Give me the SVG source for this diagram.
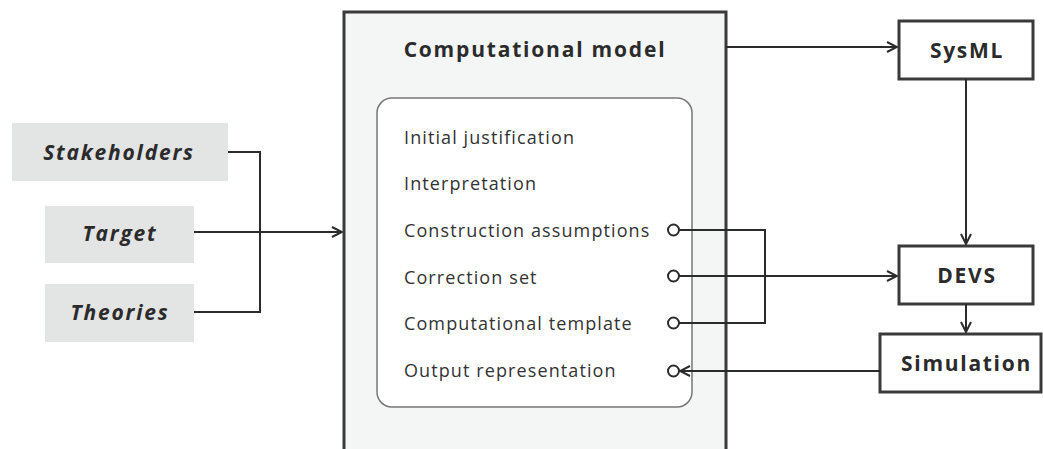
<svg xmlns="http://www.w3.org/2000/svg" width="1043" height="449" viewBox="0 0 1043 449">
<defs>
<style>
.lbl{font-family:"Open Sans","Noto Sans",sans-serif;fill:#2b2b2b}
.src rect{fill:#e3e4e4}
.src text{font-size:21px;font-weight:bold;font-style:italic;text-anchor:middle;letter-spacing:1.8px}
.box rect{fill:#ffffff;stroke:#3a3a3a;stroke-width:3}
.box text{font-size:21px;font-weight:bold;text-anchor:middle;letter-spacing:1.7px}
.item{font-size:18px;fill:#333;letter-spacing:1.1px}
.port{fill:#ffffff;stroke:#2b2b2b;stroke-width:2}
.conn{fill:none;stroke:#2b2b2b;stroke-width:2}
</style>
<marker id="arr" viewBox="0 0 12 12" refX="11" refY="6" markerWidth="12" markerHeight="12" markerUnits="userSpaceOnUse" orient="auto">
<path d="M1,1 L11,6 L1,11" fill="none" stroke="#2b2b2b" stroke-width="2"/>
</marker>
</defs>
<rect width="1043" height="449" fill="#ffffff"/>

<g id="computational-model">
<rect x="344" y="12" width="382" height="460" fill="#f4f5f5" stroke="#3a3a3a" stroke-width="3"/>
<text class="lbl" x="535" y="57" font-size="21" font-weight="bold" text-anchor="middle" letter-spacing="1.8">Computational model</text>
<rect x="377" y="98" width="315" height="309" rx="15" fill="#ffffff" stroke="#777" stroke-width="1.5"/>
<text class="lbl item" x="404" y="144">Initial justification</text>
<text class="lbl item" x="404" y="190">Interpretation</text>
<text class="lbl item" x="404" y="237">Construction assumptions</text>
<text class="lbl item" x="404" y="283.5">Correction set</text>
<text class="lbl item" x="404" y="330">Computational template</text>
<text class="lbl item" x="404" y="377">Output representation</text>
</g>

<g id="stakeholders" class="src">
<rect x="12" y="123" width="216" height="58"/>
<text class="lbl" x="119" y="160">Stakeholders</text>
</g>
<g id="target" class="src">
<rect x="45" y="206" width="149" height="57"/>
<text class="lbl" x="120" y="241">Target</text>
</g>
<g id="theories" class="src">
<rect x="45" y="284" width="149" height="58"/>
<text class="lbl" x="120" y="320">Theories</text>
</g>

<g id="sysml" class="box">
<rect x="899" y="21" width="134" height="58"/>
<text class="lbl" x="967" y="58">SysML</text>
</g>
<g id="devs" class="box">
<rect x="899" y="246" width="134" height="58"/>
<text class="lbl" x="967" y="283">DEVS</text>
</g>
<g id="simulation" class="box">
<rect x="880" y="334" width="161" height="58"/>
<text class="lbl" x="966.5" y="371">Simulation</text>
</g>

<g id="connectors">
<path class="conn" d="M228,152 H260 V312 H194"/>
<path class="conn" d="M194,232 H342" marker-end="url(#arr)"/>
<path class="conn" d="M726,47 H897" marker-end="url(#arr)"/>
<path class="conn" d="M966,79 V244" marker-end="url(#arr)"/>
<path class="conn" d="M966,304 V332" marker-end="url(#arr)"/>
<path class="conn" d="M679,230 H765 V323 H679"/>
<path class="conn" d="M679,276 H897" marker-end="url(#arr)"/>
<path class="conn" d="M880,371 H680" marker-end="url(#arr)"/>
<circle class="port" cx="673.5" cy="230" r="5.5"/>
<circle class="port" cx="673.5" cy="276" r="5.5"/>
<circle class="port" cx="673.5" cy="323" r="5.5"/>
<circle class="port" cx="673.5" cy="371" r="5.5"/>
</g>
</svg>
